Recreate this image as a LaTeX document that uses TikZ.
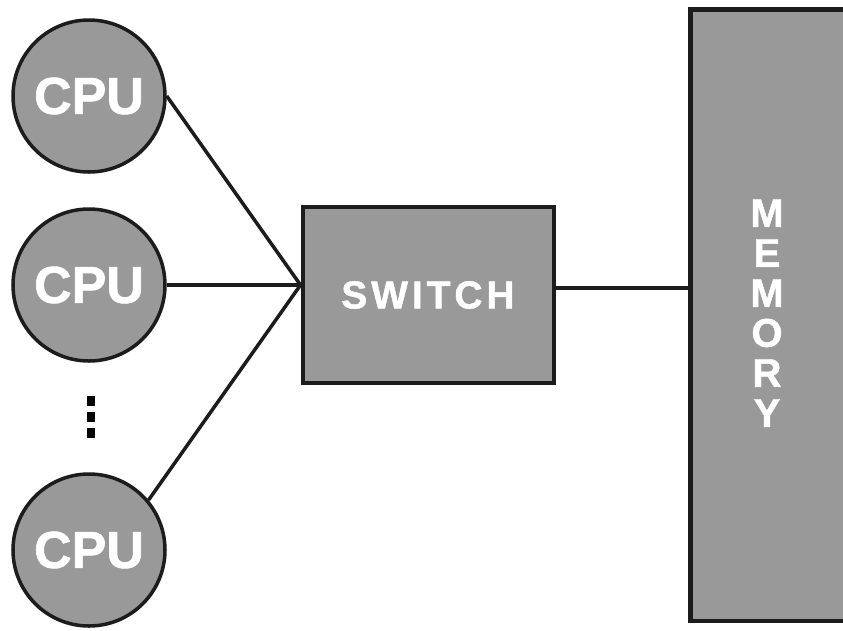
\documentclass[tikz,border=0pt]{standalone}
\usepackage{fontspec}
\setmainfont{Liberation Sans}[BoldFeatures={FakeBold=1.2}]
\newfontfamily\spacedfont{Liberation Sans}[LetterSpace=10, BoldFeatures={FakeBold=1.2}]
\definecolor{boxgray}{HTML}{999999}
\definecolor{edge}{HTML}{1C1C1C}
\begin{document}
\begin{tikzpicture}[x=1pt,y=-1pt,
  cpu/.style={circle, draw=edge, fill=boxgray, line width=3.5pt, inner sep=0pt,
    minimum size=152pt, text=white, font=\fontsize{52}{52}\selectfont\bfseries},
  swbox/.style={rectangle, draw=edge, fill=boxgray, line width=4pt, inner sep=0pt,
    minimum width=251pt, minimum height=176pt, text=white,
    font=\spacedfont\fontsize{39}{39}\selectfont\bfseries},
  membox/.style={rectangle, draw=edge, fill=boxgray, line width=4.5pt, inner sep=0pt,
    minimum width=180pt, minimum height=611.5pt},
  memtxt/.style={text=white, align=center, inner sep=0pt,
    font=\fontsize{40}{40}\selectfont\bfseries},
  wire/.style={draw=edge, line width=3.5pt},
  dotbox/.style={rectangle, fill=black, inner sep=0pt, minimum width=8pt, minimum height=10pt}
]
\clip (0,0) rectangle (843,630);
\fill[white] (0,0) rectangle (843,630);

\node[membox] (mem) at (780.5,315.25) {};
\node[memtxt] (memtext) at (767,313) {M\\E\\M\\O\\R\\Y};

\node[swbox] (sw) at (428,295) {SWITCH};
\coordinate (conv) at ([yshift=10pt]sw.west);

\node[cpu] (c1) at (89,96) {CPU};
\node[cpu] (c2) at (89,285) {CPU};
\node[cpu] (c3) at (89,550) {CPU};

\node[dotbox] (d1) at (91,401) {};
\node[dotbox] (d2) at (91,417) {};
\node[dotbox] (d3) at (91,433) {};

\draw[wire] (c1.east) -- (conv);
\draw[wire] (c2.east) -- (conv);
\draw[wire] (c3.40) -- (conv);
\draw[wire] ([yshift=7pt]sw.east) -- ([yshift=7pt]sw.east -| mem.west);
\end{tikzpicture}
\end{document}
